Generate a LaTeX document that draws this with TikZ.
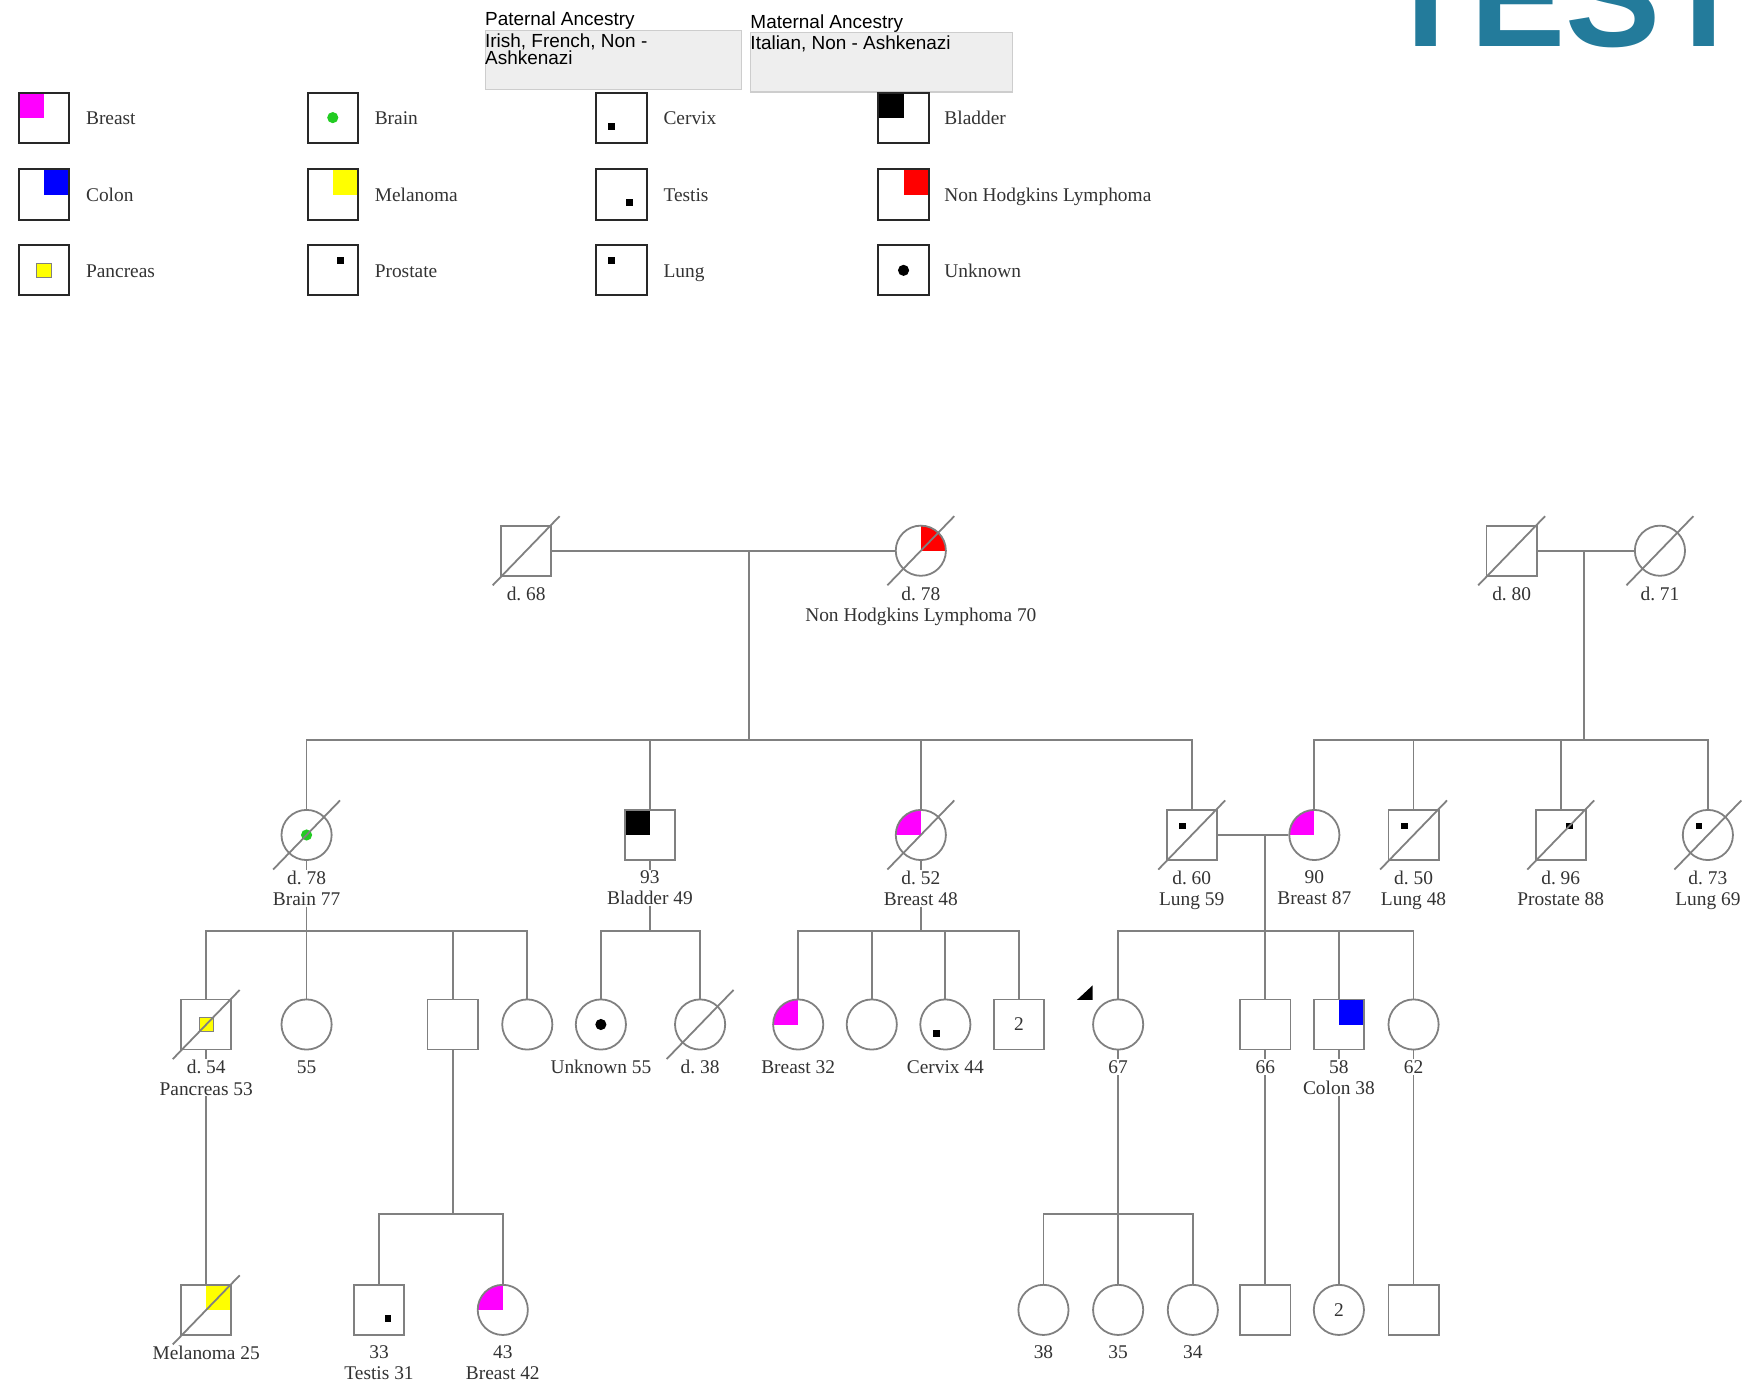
\documentclass[tikz,border=0pt]{standalone}
\usepackage{fontspec}
\setmainfont{Liberation Serif}
\newfontfamily\ancfont{Liberation Sans}
\newfontfamily\logofont{Liberation Sans}
\newcommand\pedfont{\fontsize{17.4}{19}\selectfont}
\newcommand\ancsize{\ancfont\fontsize{17}{13}\selectfont}
\frenchspacing

\definecolor{pedgray}{RGB}{128,128,128}
\definecolor{keyline}{RGB}{40,40,40}
\definecolor{txtgray}{RGB}{51,51,51}
\definecolor{ancfill}{RGB}{238,238,238}
\definecolor{ancline}{RGB}{205,205,205}
\definecolor{brmag}{RGB}{255,0,255}
\definecolor{colblue}{RGB}{0,0,255}
\definecolor{nhlred}{RGB}{255,0,0}
\definecolor{melyel}{RGB}{255,255,0}
\definecolor{braingreen}{RGB}{34,204,34}
\definecolor{logoblue}{RGB}{35,123,155}

\tikzset{
  pline/.style={draw=pedgray, line width=1.6pt},
  slash/.style={draw=pedgray, line width=1.6pt},
  male/.style={rectangle, draw=pedgray, line width=1.6pt, fill=white, minimum size=45pt, inner sep=0pt, font=\pedfont, text=txtgray},
  female/.style={circle, draw=pedgray, line width=1.6pt, fill=white, minimum size=45pt, inner sep=0pt, font=\pedfont, text=txtgray},
  keybox/.style={rectangle, draw=keyline, line width=1.8pt, fill=white, minimum size=45pt, inner sep=0pt},
  info/.style={anchor=north, align=center, inner sep=1pt, fill=white, font=\pedfont, text=txtgray},
  keytext/.style={anchor=base west, inner sep=0pt, font=\pedfont, text=txtgray},
  ancbox/.style={rectangle, draw=ancline, fill=ancfill, line width=1pt, anchor=north west, inner sep=0pt},
  anctext/.style={inner sep=0pt, font=\ancsize, text=black, align=left},
  logo/.style={anchor=base, inner sep=0pt, font=\logofont\bfseries\fontsize{128}{130}\selectfont, text=logoblue},
  qtl/.style={path picture={\fill[#1] (path picture bounding box.center) rectangle (path picture bounding box.north west);}},
  qtr/.style={path picture={\fill[#1] (path picture bounding box.center) rectangle (path picture bounding box.north east);}},
  spot/.style args={#1/#2}{path picture={\fill[black] ([shift={(#1-3,#2-3)}]path picture bounding box.center) rectangle ++(6,6);}},
  cdot/.style={path picture={\fill[#1] (path picture bounding box.center) circle[radius=5];}},
  panc/.style={path picture={\filldraw[fill=melyel, draw=pedgray, line width=0.6pt] ([shift={(-6.5,-6.5)}]path picture bounding box.center) rectangle ++(13,13);}},
}

\begin{document}
\begin{tikzpicture}[x=1pt, y=-1pt]
\useasboundingbox (0,0) rectangle (1568,1241);
\fill[white] (0,0) rectangle (1568,1241);

% logo, cut by the page edge
\begin{scope}
\clip (0,0) rectangle (1568,1241);
\node[logo] (logo) at (1404,42) {TEST};
\end{scope}

% ancestry
\node[ancbox, minimum width=230pt, minimum height=53pt] (patbox) at (435,27) {};
\node[anctext, anchor=south west] (patlbl) at (patbox.north west) {Paternal Ancestry};
\node[anctext, anchor=north west] (pattxt) at ([yshift=-3pt]patbox.north west) {Irish, French, Non -\\Ashkenazi};
\node[ancbox, minimum width=235pt, minimum height=53pt] (matbox) at (673,29) {};
\node[anctext, anchor=south west] (matlbl) at (matbox.north west) {Maternal Ancestry};
\node[anctext, anchor=north west] (mattxt) at ([yshift=-3pt]matbox.north west) {Italian, Non - Ashkenazi};

% legend
\node[keybox, qtl=brmag] (kbreast) at (39.5,105.5) {};
\node[keytext] (kbreast-t) at (77,111.5) {Breast};
\node[keybox, qtr=colblue] (kcolon) at (39.5,174.5) {};
\node[keytext] (kcolon-t) at (77,180.5) {Colon};
\node[keybox, panc] (kpanc) at (39.5,242.5) {};
\node[keytext] (kpanc-t) at (77,248.5) {Pancreas};
\node[keybox, cdot=braingreen] (kbrain) at (298.5,105.5) {};
\node[keytext] (kbrain-t) at (336,111.5) {Brain};
\node[keybox, qtr=melyel] (kmel) at (298.5,174.5) {};
\node[keytext] (kmel-t) at (336,180.5) {Melanoma};
\node[keybox, spot=7/-9] (kpros) at (298.5,242.5) {};
\node[keytext] (kpros-t) at (336,248.5) {Prostate};
\node[keybox, spot=-9/8] (kcerv) at (557.5,105.5) {};
\node[keytext] (kcerv-t) at (595,111.5) {Cervix};
\node[keybox, spot=7/7] (ktest) at (557.5,174.5) {};
\node[keytext] (ktest-t) at (595,180.5) {Testis};
\node[keybox, spot=-9/-9] (klung) at (557.5,242.5) {};
\node[keytext] (klung-t) at (595,248.5) {Lung};
\node[keybox, qtl=black] (kblad) at (810.5,105.5) {};
\node[keytext] (kblad-t) at (847,111.5) {Bladder};
\node[keybox, qtr=nhlred] (knhl) at (810.5,174.5) {};
\node[keytext] (knhl-t) at (847,180.5) {Non Hodgkins Lymphoma};
\node[keybox, cdot=black] (kunk) at (810.5,242.5) {};
\node[keytext] (kunk-t) at (847,248.5) {Unknown};

% generation I
\node[male] (pgf) at (472,494) {};
\node[female, qtr=nhlred] (pgm) at (826,494) {};
\node[male] (mgf) at (1356,494) {};
\node[female] (mgm) at (1489,494) {};

% generation II
\node[female, cdot=braingreen] (aunt1) at (275,749) {};
\node[male, qtl=black] (uncle1) at (583,749) {};
\node[female, qtl=brmag] (aunt2) at (826,749) {};
\node[male, spot=-8/-8] (father) at (1069,749) {};
\node[female, qtl=brmag] (mother) at (1179,749) {};
\node[male, spot=-8/-8] (uncle2) at (1268,749) {};
\node[male, spot=8/-8] (uncle3) at (1400,749) {};
\node[female, spot=-8/-8] (aunt3) at (1532,749) {};

% generation III
\node[male, panc] (cous1) at (185,919) {};
\node[female] (cous2) at (275,919) {};
\node[male] (cous3) at (406,919) {};
\node[female] (cous4) at (473,919) {};
\node[female, cdot=black] (cous5) at (539,919) {};
\node[female] (cous6) at (628,919) {};
\node[female, qtl=brmag] (cous7) at (716,919) {};
\node[female] (cous8) at (782,919) {};
\node[female, spot=-8/8] (cous9) at (848,919) {};
\node[male] (cous10) at (914,919) {2};
\node[female] (self) at (1003,919) {};
\node[male] (bro1) at (1135,919) {};
\node[male, qtr=colblue] (bro2) at (1201,919) {};
\node[female] (sis1) at (1268,919) {};

% generation IV
\node[male, qtr=melyel] (mel) at (185,1175) {};
\node[male, spot=8/8] (sona) at (340,1175) {};
\node[female, qtl=brmag] (daua) at (451,1175) {};
\node[female] (dau1) at (936,1175) {};
\node[female] (dau2) at (1003,1175) {};
\node[female] (dau3) at (1070,1175) {};
\node[male] (nep1) at (1135,1175) {};
\node[female] (niece) at (1201,1175) {2};
\node[male] (nep2) at (1268,1175) {};

% lines of descent
\draw[pline] (pgf) -- (pgm);
\coordinate (c1) at (672,494);
\coordinate (c1s) at (672,664);
\draw[pline] (c1) -- (c1s);
\draw[pline] (c1s) -| (aunt1);
\draw[pline] (c1s) -| (uncle1);
\draw[pline] (c1s) -| (aunt2);
\draw[pline] (c1s) -| (father);

\draw[pline] (mgf) -- (mgm);
\coordinate (c2) at (1421,494);
\coordinate (c2s) at (1421,664);
\draw[pline] (c2) -- (c2s);
\draw[pline] (c2s) -| (mother);
\draw[pline] (c2s) -| (uncle2);
\draw[pline] (c2s) -| (uncle3);
\draw[pline] (c2s) -| (aunt3);

\draw[pline] (father) -- (mother);
\coordinate (c3) at (1135,749);
\coordinate (c3s) at (1135,835);
\draw[pline] (c3) -- (c3s);
\draw[pline] (c3s) -| (self);
\draw[pline] (c3s) -| (bro1);
\draw[pline] (c3s) -| (bro2);
\draw[pline] (c3s) -| (sis1);

\coordinate (c4s) at (275,835);
\draw[pline] (aunt1) -- (c4s);
\draw[pline] (c4s) -| (cous1);
\draw[pline] (c4s) -| (cous2);
\draw[pline] (c4s) -| (cous3);
\draw[pline] (c4s) -| (cous4);

\coordinate (c5s) at (583,835);
\draw[pline] (uncle1) -- (c5s);
\draw[pline] (c5s) -| (cous5);
\draw[pline] (c5s) -| (cous6);

\coordinate (c6s) at (826,835);
\draw[pline] (aunt2) -- (c6s);
\draw[pline] (c6s) -| (cous7);
\draw[pline] (c6s) -| (cous8);
\draw[pline] (c6s) -| (cous9);
\draw[pline] (c6s) -| (cous10);

\draw[pline] (cous1) -- (mel);
\coordinate (c7s) at (406,1089);
\draw[pline] (cous3) -- (c7s);
\draw[pline] (c7s) -| (sona);
\draw[pline] (c7s) -| (daua);

\coordinate (c8s) at (1003,1089);
\draw[pline] (self) -- (c8s);
\draw[pline] (c8s) -| (dau1);
\draw[pline] (c8s) -| (dau2);
\draw[pline] (c8s) -| (dau3);
\draw[pline] (bro1) -- (nep1);
\draw[pline] (bro2) -- (niece);
\draw[pline] (sis1) -- (nep2);

% labels
\node[info] (pgf-l) at (472,525) {d. 68};
\node[info] (pgm-l) at (826,525) {d. 78\\Non Hodgkins Lymphoma 70};
\node[info] (mgf-l) at (1356,525) {d. 80};
\node[info] (mgm-l) at (1489,525) {d. 71};
\node[info] (aunt1-l) at (275,780) {d. 78\\Brain 77};
\node[info] (uncle1-l) at (583,780) {93\\Bladder 49};
\node[info] (aunt2-l) at (826,780) {d. 52\\Breast 48};
\node[info] (father-l) at (1069,780) {d. 60\\Lung 59};
\node[info] (mother-l) at (1179,780) {90\\Breast 87};
\node[info] (uncle2-l) at (1268,780) {d. 50\\Lung 48};
\node[info] (uncle3-l) at (1400,780) {d. 96\\Prostate 88};
\node[info] (aunt3-l) at (1532,780) {d. 73\\Lung 69};
\node[info] (cous1-l) at (185,950) {d. 54\\Pancreas 53};
\node[info] (cous2-l) at (275,950) {55};
\node[info] (cous5-l) at (539,950) {Unknown 55};
\node[info] (cous6-l) at (628,950) {d. 38};
\node[info] (cous7-l) at (716,950) {Breast 32};
\node[info] (cous9-l) at (848,950) {Cervix 44};
\node[info] (self-l) at (1003,950) {67};
\node[info] (bro1-l) at (1135,950) {66};
\node[info] (bro2-l) at (1201,950) {58\\Colon 38};
\node[info] (sis1-l) at (1268,950) {62};
\node[info] (mel-l) at (185,1206) {Melanoma 25};
\node[info] (sona-l) at (340,1206) {33\\Testis 31};
\node[info] (daua-l) at (451,1206) {43\\Breast 42};
\node[info] (dau1-l) at (936,1206) {38};
\node[info] (dau2-l) at (1003,1206) {35};
\node[info] (dau3-l) at (1070,1206) {34};

% deceased
\draw[slash] ([shift={(-30,31)}]pgf.center) -- ([shift={(30,-31)}]pgf.center);
\draw[slash] ([shift={(-30,31)}]pgm.center) -- ([shift={(30,-31)}]pgm.center);
\draw[slash] ([shift={(-30,31)}]mgf.center) -- ([shift={(30,-31)}]mgf.center);
\draw[slash] ([shift={(-30,31)}]mgm.center) -- ([shift={(30,-31)}]mgm.center);
\draw[slash] ([shift={(-30,31)}]aunt1.center) -- ([shift={(30,-31)}]aunt1.center);
\draw[slash] ([shift={(-30,31)}]aunt2.center) -- ([shift={(30,-31)}]aunt2.center);
\draw[slash] ([shift={(-30,31)}]father.center) -- ([shift={(30,-31)}]father.center);
\draw[slash] ([shift={(-30,31)}]uncle2.center) -- ([shift={(30,-31)}]uncle2.center);
\draw[slash] ([shift={(-30,31)}]uncle3.center) -- ([shift={(30,-31)}]uncle3.center);
\draw[slash] ([shift={(-30,31)}]aunt3.center) -- ([shift={(30,-31)}]aunt3.center);
\draw[slash] ([shift={(-30,31)}]cous1.center) -- ([shift={(30,-31)}]cous1.center);
\draw[slash] ([shift={(-30,31)}]cous6.center) -- ([shift={(30,-31)}]cous6.center);
\draw[slash] ([shift={(-30,31)}]mel.center) -- ([shift={(30,-31)}]mel.center);

% proband
\fill[black] ([shift={(-23,-35)}]self.center) -- ([shift={(-37,-22)}]self.center) -- ([shift={(-23,-22)}]self.center) -- cycle;
\end{tikzpicture}
\end{document}
